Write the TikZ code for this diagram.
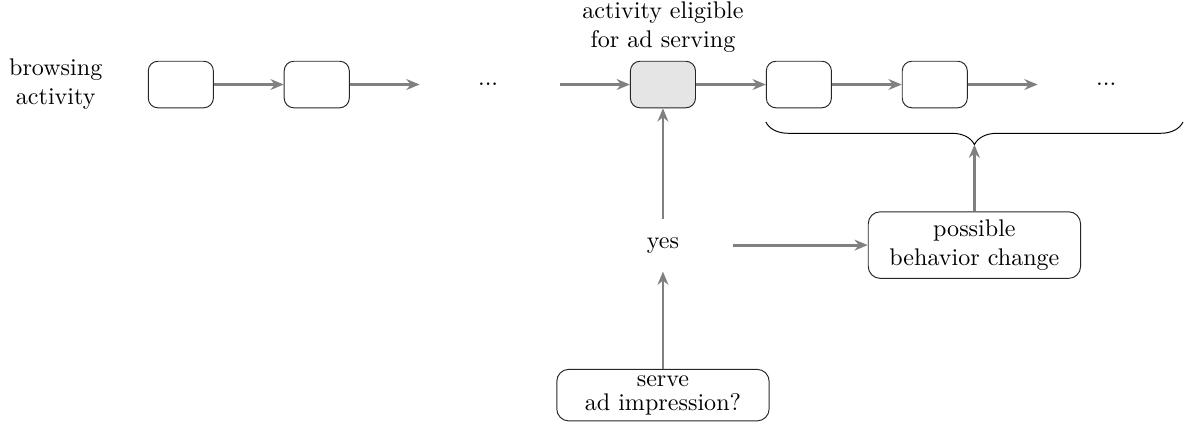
\documentclass[tikz,border=0pt]{standalone}
\usepackage{tikz}
\usetikzlibrary{arrows.meta,positioning,calc,decorations.pathreplacing}

\begin{document}
\begin{tikzpicture}[
			node distance=1.02cm,
			blk/.style={draw=black!85,rounded corners=4pt,minimum width=0.95cm,minimum height=0.68cm},
			evt/.style={blk,fill=gray!20},
			txtbox/.style={draw=black!85,rounded corners=5pt,minimum width=3.1cm,align=center},
			arr/.style={-{Stealth[length=5.5pt,width=4.5pt]},very thick,gray},
			brc/.style={decorate,decoration={brace,mirror,amplitude=0.33cm},thin}
			]
			\useasboundingbox (0,0) rectangle (17.314,-6.234);
			% browsing chain
			\node[blk] (b1) at (2.64,-1.234) {};
			\node[align=center] (brw) [left=0.54cm of b1] {browsing\\activity};
			\node[blk] (b2) [right=of b1] {};
			\coordinate[right=of b2] (e1);
			\node (d1) [right=1cm of e1,anchor=center] {...};
			\coordinate[right=1.05cm of d1.center] (s1);
			\node[evt] (sh) [right=of s1] {};
			\node[align=center] (lab) [above=0pt of sh] {activity eligible\\for ad serving};
			\node[blk] (b4) [right=of sh] {};
			\node[blk] (b5) [right=of b4] {};
			\coordinate[right=of b5] (e2);
			\node (d2) [right=1cm of e2,anchor=center] {...};
			\draw[arr] (b1)--(b2);
			\draw[arr] (b2)--(e1);
			\draw[arr] (s1)--(sh);
			\draw[arr] (sh)--(b4);
			\draw[arr] (b4)--(b5);
			\draw[arr] (b5)--(e2);
			% brace over later activity
			\coordinate[below=0.2cm of b4.south west] (bl);
			\coordinate (br) at (bl -| 17.27,0);
			\draw[brc] (bl)--(br);
			\coordinate (tip) at ($(bl)!.5!(br)-(0,0.33)$);
			% decision
			\node[minimum width=2.04cm,minimum height=0.76cm] (yes) [below=1.61cm of sh] {yes};
			\node[txtbox,inner ysep=2.5pt] (srv) [below=1.42cm of yes] {serve\\[-2pt]ad impression?};
			\node[txtbox,minimum height=0.93cm] (pos) at (tip |- yes) {possible\\behavior change};
			\draw[arr] (srv)--(yes);
			\draw[arr] (yes)--(sh);
			\draw[arr] (yes)--(pos);
			\draw[arr] (pos)--(tip);
		\end{tikzpicture}
\end{document}
